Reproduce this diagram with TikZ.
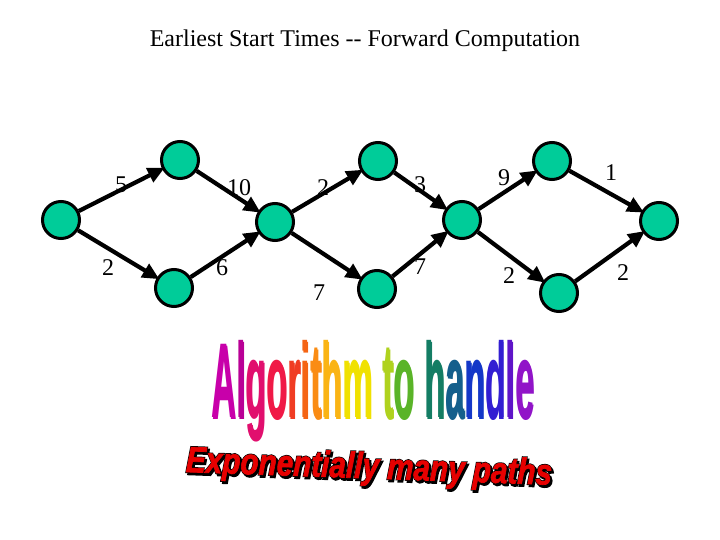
\documentclass[tikz,border=0pt]{standalone}
\usepackage{fontspec}
\setmainfont{Liberation Serif}
\newfontfamily\artfont{Liberation Sans}
\newfontfamily\expfont[FakeBold=2]{Liberation Sans Bold Italic}
\newfontfamily\expbackfont[FakeBold=6]{Liberation Sans Bold Italic}
\usetikzlibrary{arrows.meta}
\definecolor{nodegreen}{RGB}{0,204,153}
\definecolor{artred}{RGB}{230,0,0}
\tikzset{
  vert/.style={circle,draw=black,line width=3pt,fill=nodegreen,minimum size=37pt,inner sep=0pt},
  edge/.style={line width=4.2pt,-{Triangle[length=17pt,width=15pt]},shorten >=-3pt},
  lab/.style={font=\fontsize{24}{26}\selectfont,inner sep=0pt}
}
\newcommand{\cl}[2]{\textcolor[RGB]{#1}{#2}}
\newcommand{\algtext}{%
\cl{200,0,170}{A}\cl{185,0,150}{l}\cl{225,15,110}{g}\cl{240,25,70}{o}\cl{240,60,35}{r}\cl{245,100,20}{i}\cl{250,140,20}{t}\cl{250,180,20}{h}\cl{240,225,0}{m} \cl{175,210,30}{t}\cl{90,180,40}{o} \cl{20,125,100}{h}\cl{20,95,140}{a}\cl{20,55,200}{n}\cl{50,30,210}{d}\cl{95,20,200}{l}\cl{145,20,200}{e}}
\newcommand{\exptext}{Exponentially many paths}
\newcommand{\offcopy}[3]{\rlap{\hspace*{#1}\raisebox{#2}{#3}}}
\newcommand{\outlined}[1]{\leavevmode
  \offcopy{1.8pt}{-1.6pt}{\textcolor{black}{\expbackfont #1}}%
  \offcopy{0pt}{0pt}{\textcolor{black}{\expbackfont #1}}%
  \textcolor{artred}{\expfont #1}}
\newcommand{\shadowed}[1]{\leavevmode
  \offcopy{0.8pt}{-0.6pt}{\textcolor{black!15}{#1}}%
  #1}
\begin{document}
\begin{tikzpicture}[x=1pt,y=-1pt]
\useasboundingbox (0,0) rectangle (720,540);
\fill[white] (0,0) rectangle (720,540);
\node[font=\fontsize{24}{26}\selectfont] (title) at (365,41) {Earliest Start Times -{}- Forward Computation};
% vertices
\node[vert] (a) at (61,220) {};
\node[vert] (b) at (180,160) {};
\node[vert] (c) at (174,288) {};
\node[vert] (d) at (275,222) {};
\node[vert] (e) at (378,161) {};
\node[vert] (f) at (377,289) {};
\node[vert] (g) at (462,220) {};
\node[vert] (h) at (552,161) {};
\node[vert] (i) at (559,293) {};
\node[vert] (j) at (659,221) {};
% edges
\draw[edge] (a) -- (b);
\draw[edge] (a) -- (c);
\draw[edge] (b) -- (d);
\draw[edge] (c) -- (d);
\draw[edge] (d) -- (e);
\draw[edge] (d) -- (f);
\draw[edge] (e) -- (g);
\draw[edge] (f) -- (g);
\draw[edge] (g) -- (h);
\draw[edge] (g) -- (i);
\draw[edge] (h) -- (j);
\draw[edge] (i) -- (j);
% labels
\node[lab] (l1) at (121,185) {5};
\node[lab] (l2) at (108,268) {2};
\node[lab] (l3) at (239,188) {10};
\node[lab] (l4) at (222,268) {6};
\node[lab] (l5) at (323,188) {2};
\node[lab] (l6) at (319,293) {7};
\node[lab] (l7) at (420,185) {3};
\node[lab] (l8) at (420,267) {7};
\node[lab] (l9) at (504,178) {9};
\node[lab] (l10) at (509,276) {2};
\node[lab] (l11) at (611,173) {1};
\node[lab] (l12) at (623,273) {2};
% word art
\node[inner sep=0pt] (alg) at (373,391) {\scalebox{1.14}[3.55]{\artfont\bfseries\fontsize{30}{30}\selectfont\shadowed{\algtext}}};
\node[inner sep=0pt,rotate=-2] (exp) at (369,470) {\scalebox{1.06}[1.3]{\fontsize{28}{28}\selectfont\outlined{\exptext}}};
\end{tikzpicture}
\end{document}
